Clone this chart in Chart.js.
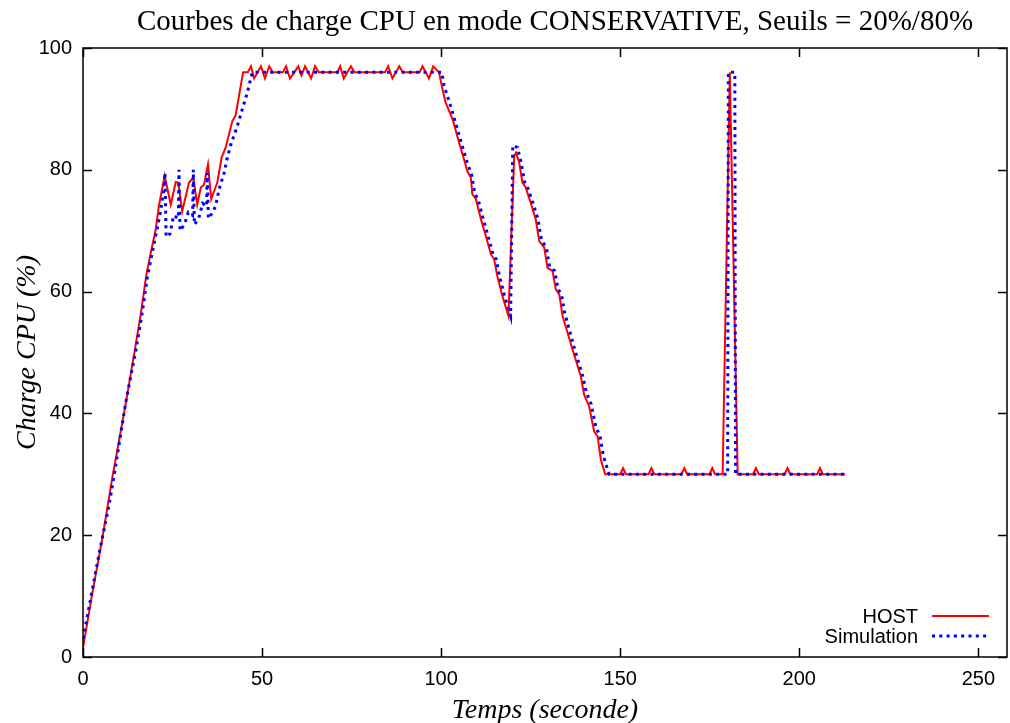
<!DOCTYPE html>
<html>
<head>
<meta charset="utf-8">
<script src="https://cdn.jsdelivr.net/npm/chart.js@4/dist/chart.umd.min.js"></script>
<style>
  html, body { margin: 0; padding: 0; background: #fff; }
  #wrap { width: 1010px; height: 723px; }
</style>
</head>
<body>
<div id="wrap"><canvas id="cpu"></canvas></div>
<script>
// --- données ---
const chartTitle = 'Courbes de charge CPU en mode CONSERVATIVE, Seuils = 20%/80%';

const hostTime = [0, 2.6, 5.4, 8.2, 11.9, 14.5, 16.1, 17.7, 18.9, 20.3, 21.2, 22.8, 24.5, 25.9, 26.6, 27.7, 29.6, 30.8, 31.9, 32.9, 33.8, 34.9, 35.8, 37.5, 38.7, 39.8, 41.7, 42.6, 44.7,
  46.0, 46.9, 47.8, 49.7, 50.8, 52.0, 53.0, 55.8, 56.7, 57.8, 59.0, 60.1, 61.0, 62.0, 63.7, 64.8, 65.8, 71.0, 71.8, 72.8, 74.8, 75.8, 84.3, 85.2, 86.4, 88.3, 89.3, 94.0, 94.8, 96.6, 97.8, 99.4,
  100.6, 101.3, 103.2, 105.0, 106.4, 107.3, 108.3, 108.7, 109.7, 111.1, 112.5, 113.9, 114.8, 115.7, 117.1, 118.8, 120.4, 120.9, 121.8, 122.7, 123.6, 125.0, 126.4, 127.4, 128.8, 129.7, 131.1, 132.0, 133.0,
  133.9, 136.7, 139.0, 139.9, 141.3, 142.7, 143.7, 144.6, 145.8,
  150.0, 150.8, 151.6, 157.9, 158.7, 159.5, 167.1, 167.9, 168.7, 174.9, 175.7, 176.5, 178.6, 180.6, 182.8,
  187.1, 187.9, 188.7, 195.9, 196.7, 197.5, 205.0, 205.8, 206.6, 212.8];
const hostLoad = [1.5, 10.5, 19.5, 29.5, 41.5, 50.5, 56.2, 62.8, 66.3, 70.2, 74.1, 79.0, 74.3, 78.0, 77.9, 73.2, 77.9, 78.7, 74.3, 77.1, 77.6, 80.9, 75.2, 77.9, 82.0, 83.6, 88.0, 88.9, 96,
  96, 97, 95, 97, 95, 97, 96, 96, 97, 95, 96, 97, 95.5, 97, 95, 97, 96, 96, 97, 95, 97, 96, 96, 97, 95, 97, 96, 96, 97, 95, 97, 96,
  92.6, 91.0, 88.3, 84.5, 81.7, 79.8, 78.7, 76.0, 75.2, 71.9, 69.1, 66.1, 65.3, 62.5, 59.3, 56.0, 82.3, 82.8, 81.2, 77.9, 77.1, 74.6, 71.9, 68.3, 67.2, 63.9, 63.4, 60.4, 59.5,
  56.0, 50.5, 46.1, 43.1, 41.2, 37.1, 36.2, 32.4, 30,
  30, 31, 30, 30, 31, 30, 30, 31, 30, 30, 31, 30, 30, 96, 30,
  30, 31, 30, 30, 31, 30, 30, 31, 30, 30];

const simTime = [0, 2.6, 4.5, 7.3, 9.1, 11.9, 14.8, 16.4, 18.0, 19.2, 20.6, 21.6, 22.5, 22.9, 23.2, 24.3, 25.3, 26.6, 26.8, 27.1, 28.3, 29.4, 30.6, 30.8, 31.1, 32.3, 33.4, 34.5, 34.7, 35.0, 36.2, 37.0, 38.0, 39.4, 40.3, 41.2, 43.1, 44.5, 45.9, 46.8, 47.3,
  100.2, 100.8, 102.2, 103.2, 105.6, 107.0, 108.6, 109.4, 110.3, 111.7, 113.1, 114.5, 115.4, 116.3, 117.7, 119.4, 120.0, 121.3, 122.4, 123.3, 124.2, 125.6, 127.0, 128.0, 129.4, 130.3, 131.7, 132.6, 133.6,
  134.5, 137.3, 139.6, 140.5, 141.9, 143.3, 144.3, 145.3, 146.9, 180.0, 180.2, 182.0, 182.2, 212.8];
const simLoad = [3, 11, 17, 25, 31.3, 41.7, 50.5, 56, 62.5, 66, 70, 73, 76.5, 79.5, 69, 69.5, 72.5, 72, 80, 70, 71, 73, 72.5, 80, 71, 72, 74.5, 74, 79.5, 72, 73, 74, 76.8, 79.5, 82, 84, 87.2, 90, 92.7, 94.9, 96,
  96, 93.8, 91.3, 89.4, 84.5, 81.7, 79, 76, 75.2, 72, 69.1, 66.1, 65.3, 62.5, 59.3, 56, 84, 83.7, 81, 78, 77, 74.6, 72, 68.5, 67.2, 64, 63.4, 60.5, 59.5,
  56.5, 50.5, 46, 43.5, 41.5, 37.5, 36.5, 33, 30, 30, 96, 96, 30, 30];

const xTicks = [0, 50, 100, 150, 200, 250];
const yTicks = [0, 20, 40, 60, 80, 100];

const toPoints = (xs, ys) => xs.map((x, i) => ({ x: x, y: ys[i] }));

// cadre fermé + graduations vers l'intérieur (style gnuplot)
const framePlugin = {
  id: 'frame',
  afterDatasetsDraw(chart) {
    const { ctx, chartArea: a, scales } = chart;
    const len = 9;
    ctx.save();
    ctx.strokeStyle = '#000';
    ctx.lineWidth = 1.5;
    ctx.beginPath();
    scales.x.ticks.forEach(t => {
      const px = Math.round(scales.x.getPixelForValue(t.value)) + 0.5;
      ctx.moveTo(px, a.bottom); ctx.lineTo(px, a.bottom - len);
      ctx.moveTo(px, a.top); ctx.lineTo(px, a.top + len);
    });
    scales.y.ticks.forEach(t => {
      const py = Math.round(scales.y.getPixelForValue(t.value)) + 0.5;
      ctx.moveTo(a.left, py); ctx.lineTo(a.left + len, py);
      ctx.moveTo(a.right, py); ctx.lineTo(a.right - len, py);
    });
    ctx.stroke();
    ctx.strokeRect(a.left, a.top, a.right - a.left, a.bottom - a.top);
    ctx.restore();
  }
};

// titre centré sur la zone de tracé + légende en bas à droite
const textPlugin = {
  id: 'texts',
  afterDraw(chart) {
    const { ctx, chartArea: a } = chart;
    ctx.save();
    ctx.fillStyle = '#000';
    ctx.font = '29px "Liberation Serif", "Times New Roman", serif';
    ctx.textAlign = 'center';
    ctx.textBaseline = 'middle';
    ctx.fillText(chartTitle, (a.left + a.right) / 2 + 10, 22);

    const textRight = 918, lineStart = 932, lineEnd = 989;
    const rows = [616, 636];
    ctx.font = '20px "Liberation Sans", Arial, sans-serif';
    ctx.textAlign = 'right';
    chart.data.datasets.forEach((ds, i) => {
      const y = rows[i];
      ctx.fillStyle = '#000';
      ctx.fillText(ds.label, textRight, y + 1);
      ctx.strokeStyle = ds.borderColor;
      ctx.lineWidth = ds.borderWidth;
      ctx.setLineDash(ds.borderDash || []);
      ctx.beginPath();
      ctx.moveTo(lineStart, y);
      ctx.lineTo(lineEnd, y);
      ctx.stroke();
    });
    ctx.restore();
  }
};

const tickFont = { family: '"Liberation Sans", Arial, sans-serif', size: 20 };
const titleFont = { family: '"Liberation Serif", "Times New Roman", serif', size: 28, style: 'italic' };

new Chart(document.getElementById('cpu'), {
  type: 'scatter',
  data: {
    datasets: [
      {
        label: 'HOST',
        data: toPoints(hostTime, hostLoad),
        showLine: true,
        borderColor: '#ff0000',
        borderWidth: 2,
        pointRadius: 0,
        order: 1
      },
      {
        label: 'Simulation',
        data: toPoints(simTime, simLoad),
        showLine: true,
        borderColor: '#0000ff',
        borderWidth: 3,
        borderDash: [3, 4.3],
        pointRadius: 0,
        order: 0
      }
    ]
  },
  options: {
    responsive: true,
    maintainAspectRatio: false,
    animation: false,
    devicePixelRatio: 1,
    layout: { padding: { left: 0, right: 3, top: 48, bottom: 0 } },
    plugins: {
      legend: { display: false },
      tooltip: { enabled: false },
      title: { display: false }
    },
    scales: {
      x: {
        type: 'linear',
        min: 0,
        max: 258,
        afterBuildTicks: s => { s.ticks = xTicks.map(v => ({ value: v })); },
        afterFit: s => { s.height = 66; },
        grid: { display: false, drawTicks: false },
        border: { display: false },
        ticks: { color: '#000', font: tickFont, padding: 10, maxRotation: 0 },
        title: { display: true, text: 'Temps (seconde)', color: '#000', font: titleFont, padding: { top: 0, bottom: -4 } }
      },
      y: {
        type: 'linear',
        min: 0,
        max: 100,
        afterBuildTicks: s => { s.ticks = yTicks.map(v => ({ value: v })); },
        afterFit: s => { s.width = 83; },
        grid: { display: false, drawTicks: false },
        border: { display: false },
        ticks: { color: '#000', font: tickFont, padding: 11 },
        title: { display: true, text: 'Charge CPU (%)', color: '#000', font: titleFont, padding: { top: 11, bottom: 0 } }
      }
    }
  },
  plugins: [framePlugin, textPlugin]
});
</script>
</body>
</html>
